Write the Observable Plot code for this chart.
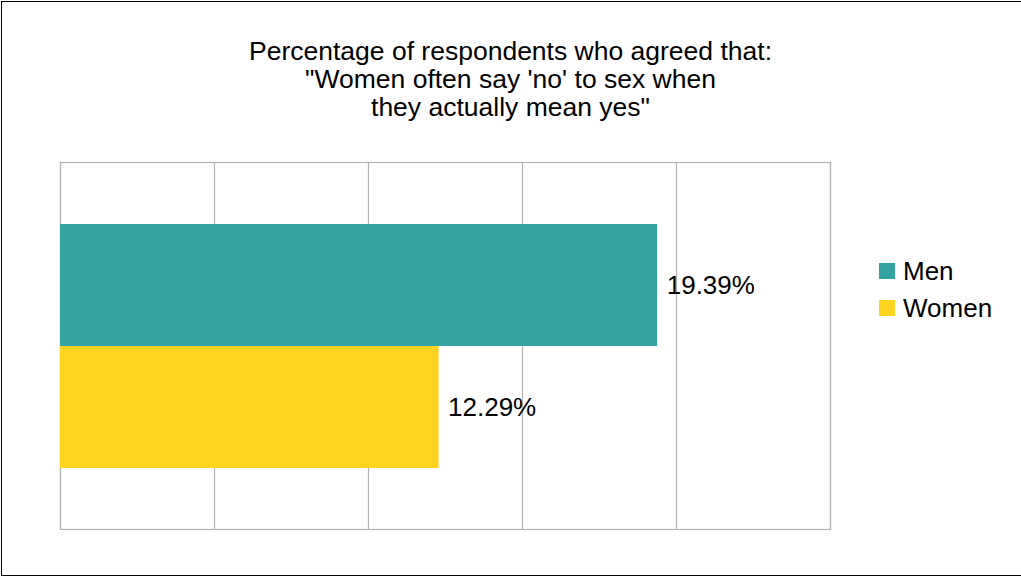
<!DOCTYPE html>
<html>
<head>
<meta charset="utf-8">
<script src="https://cdn.jsdelivr.net/npm/d3@7"></script>
<script src="https://cdn.jsdelivr.net/npm/@observablehq/plot@0.6"></script>
<style>
  html, body { margin: 0; padding: 0; background: #fff; }
  #wrap { position: relative; width: 1021px; height: 577px; overflow: hidden; font-family: "Liberation Sans", Arial, sans-serif; }
  #border { position: absolute; left: 1px; top: 1px; width: 1030px; height: 573px; border-top: 1px solid #000; border-left: 1px solid #000; border-bottom: 1px solid #000; }
  #title { position: absolute; left: 0; top: 37px; width: 1021px; text-align: center; font-size: 26.5px; line-height: 28px; color: #000; }
  #chart { position: absolute; left: 0; top: 0; }
  #legend { position: absolute; left: 879px; top: 255px; }
  .item { position: relative; height: 37px; }
  .sw { position: absolute; left: 0; top: 8px; width: 16px; height: 16px; }
  .lab { position: absolute; left: 24px; top: 0; font-size: 26px; line-height: 32px; color: #000; white-space: nowrap; }
</style>
</head>
<body>
<div id="wrap">
  <div id="title">Percentage of respondents who agreed that:<br>"Women often say 'no' to sex when<br>they actually mean yes"</div>
  <div id="chart"></div>
  <div id="legend"></div>
  <div id="border"></div>
</div>
<script>
const categories = ["Men", "Women"];
const values = [19.39, 12.29];
const labels = ["19.39%", "12.29%"];
const colors = ["#34a3a4", "#ffd320"];
const xTicks = [0, 5, 10, 15, 20, 25];

const data = categories.map((c, i) => ({group: c, value: values[i], label: labels[i]}));

const chart = Plot.plot({
  width: 1021,
  height: 577,
  marginLeft: 60,
  marginRight: 191,
  marginTop: 162,
  marginBottom: 48,
  style: {fontFamily: "'Liberation Sans', Arial, sans-serif", background: "transparent"},
  x: {domain: [0, 25], axis: null},
  y: {domain: categories, axis: null, paddingInner: 0, paddingOuter: 0.5},
  color: {domain: categories, range: colors},
  marks: [
    Plot.gridX(xTicks, {stroke: "#b3b3b3", strokeOpacity: 1, strokeWidth: 1.2}),
    Plot.frame({stroke: "#b3b3b3", strokeWidth: 1.2}),
    Plot.barX(data, {x: "value", y: "group", fill: "group"}),
    Plot.text(data, {x: "value", y: "group", text: "label", textAnchor: "start", dx: 9, fontSize: 26, fill: "#000"})
  ]
});
document.getElementById("chart").appendChild(chart);

const legend = document.getElementById("legend");
categories.forEach((c, i) => {
  const item = document.createElement("div");
  item.className = "item";
  const sw = document.createElement("div");
  sw.className = "sw";
  sw.style.background = colors[i];
  const lab = document.createElement("div");
  lab.className = "lab";
  lab.textContent = c;
  item.appendChild(sw);
  item.appendChild(lab);
  legend.appendChild(item);
});
</script>
</body>
</html>
